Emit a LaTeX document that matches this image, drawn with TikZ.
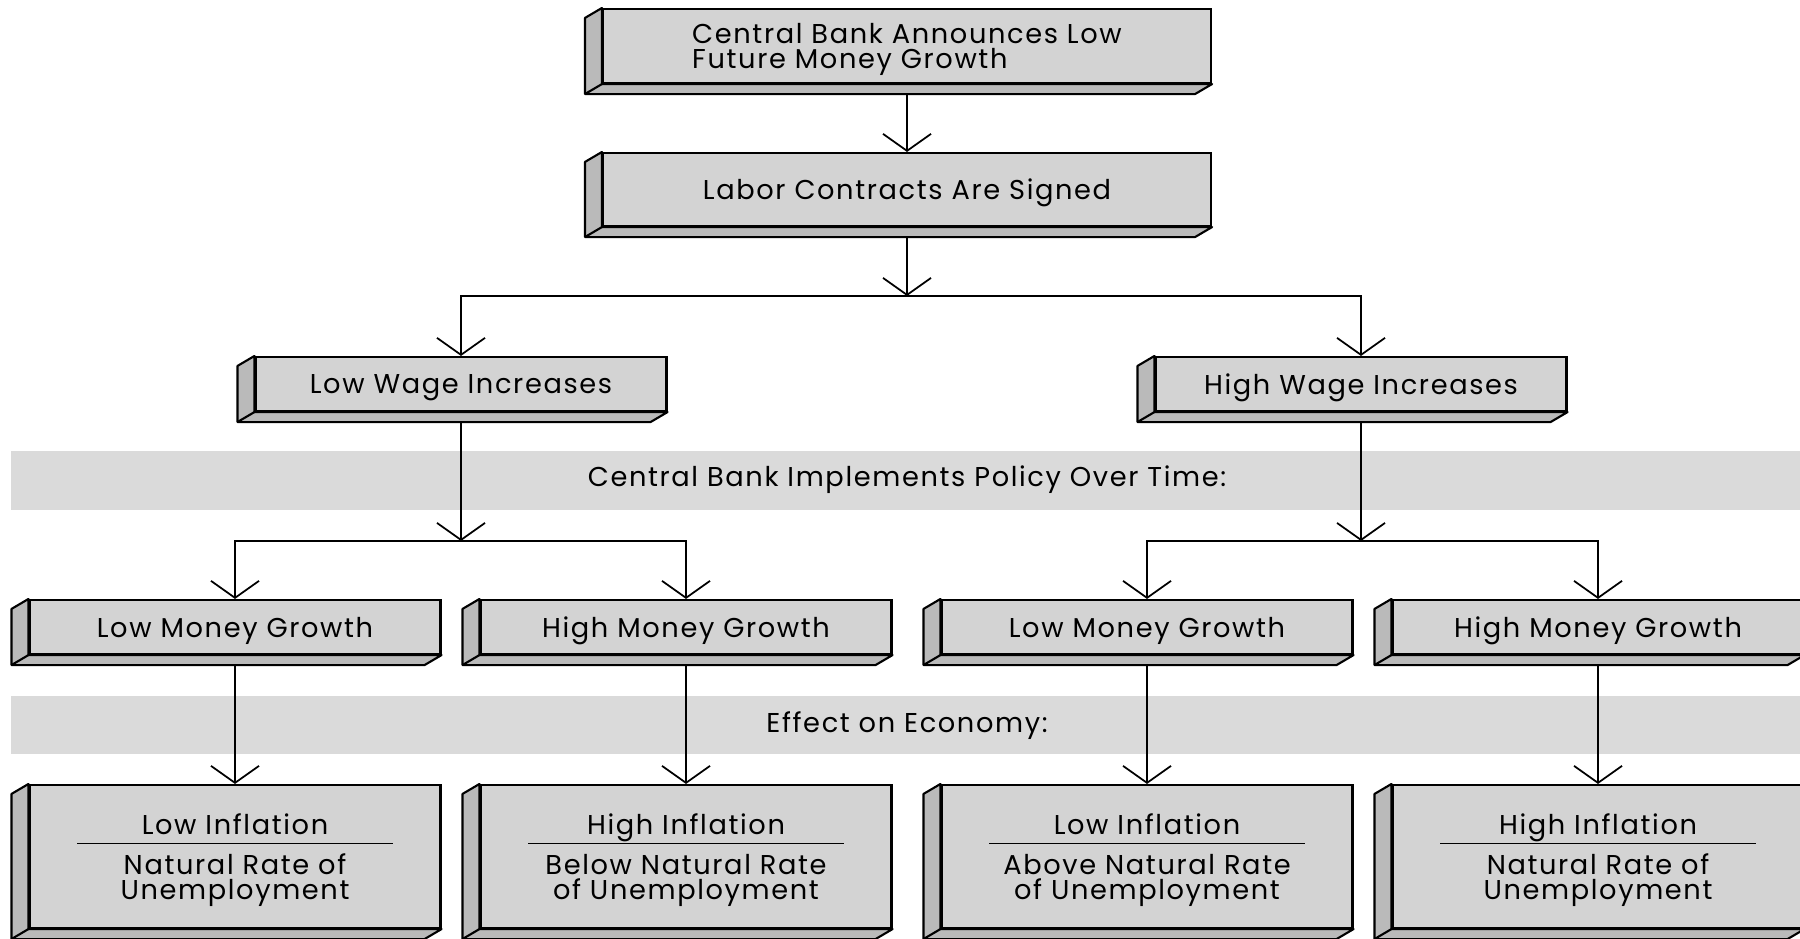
\documentclass[tikz,border=0pt]{standalone}
\usepackage{fontspec}
\setmainfont[LetterSpace=6]{Poppins}
\usetikzlibrary{arrows.meta,calc}
\definecolor{facegray}{RGB}{211,211,211}
\definecolor{sidegray}{RGB}{186,186,186}
\definecolor{bandgray}{RGB}{218,218,218}
\tikzset{
  slab/.style={draw,line width=1.2pt,fill=facegray,inner sep=0pt,text depth=0pt,
    minimum width=8.22cm,minimum height=1.08cm,
    font=\fontsize{15.5}{14.6}\selectfont},
  bandtext/.style={font=\fontsize{15.5}{14.6}\selectfont},
}
% left and bottom faces of a slab
\newcommand{\slabsides}[1]{%
  \draw[line width=1.2pt,fill=sidegray,line join=round]
    (#1.north west)--++(-0.34,-0.2) |- ($(#1.south east)+(-0.34,-0.2)$)
    --(#1.south east)--(#1.south west)--cycle;
  \draw[line width=1.2pt] (#1.south west)--++(-0.34,-0.2);
}
\begin{document}
\begin{tikzpicture}[>={Straight Barb[length=3.4mm,width=9.6mm]},line width=1pt]
    \clip (0,0) rectangle (36,-18.76);
    \fill[white] (0,0) rectangle (36,-18.76);
    % shaded bands
    \fill[bandgray] (0.22,-9.02) rectangle (36,-10.2);
    \fill[bandgray] (0.22,-13.92) rectangle (36,-15.08);
    \node[bandtext] (policy) at (18.14,-9.6) {Central Bank Implements Policy Over Time:};
    \node[bandtext] (effect) at (18.14,-14.52) {Effect on Economy:};
    % slabs
    \node[slab,minimum width=12.16cm,minimum height=1.48cm,align=left] (announce) at (18.14,-0.92)
        {Central Bank Announces Low\\Future Money Growth\hspace*{4mm}};
    \node[slab,minimum width=12.16cm,minimum height=1.46cm] (signed) at (18.14,-3.79)
        {Labor Contracts Are Signed};
    \node[slab] (lowwage) at (9.22,-7.68) {Low Wage Increases};
    \node[slab] (highwage) at (27.22,-7.68) {High Wage Increases};
    \node[slab] (lmg1) at (4.70,-12.54) {Low Money Growth};
    \node[slab] (hmg1) at (13.72,-12.54) {High Money Growth};
    \node[slab] (lmg2) at (22.94,-12.54) {Low Money Growth};
    \node[slab] (hmg2) at (31.96,-12.54) {High Money Growth};
    \node[slab,minimum height=2.86cm,align=center] (out1) at (4.70,-17.13)
        {Low Inflation\\[-8.8pt]\rule{6.32cm}{0.6pt}\\[2.3pt]Natural Rate of\\Unemployment};
    \node[slab,minimum height=2.86cm,align=center] (out2) at (13.72,-17.13)
        {High Inflation\\[-8.8pt]\rule{6.32cm}{0.6pt}\\[2.3pt]Below Natural Rate\\of Unemployment};
    \node[slab,minimum height=2.86cm,align=center] (out3) at (22.94,-17.13)
        {Low Inflation\\[-8.8pt]\rule{6.32cm}{0.6pt}\\[2.3pt]Above Natural Rate\\of Unemployment};
    \node[slab,minimum height=2.86cm,align=center] (out4) at (31.96,-17.13)
        {High Inflation\\[-8.8pt]\rule{6.32cm}{0.6pt}\\[2.3pt]Natural Rate of\\Unemployment};
    \foreach \n in {announce,signed,lowwage,highwage,lmg1,hmg1,lmg2,hmg2,out1,out2,out3,out4}
    {
        \slabsides{\n}
    }
    % connectors
    \coordinate (fork) at (18.14,-5.92);
    \coordinate (forkl) at (9.22,-10.82);
    \coordinate (forkr) at (27.22,-10.82);
    \draw[->] ([yshift=-2mm]announce.south)--(signed.north);
    \draw[->] ([yshift=-2mm]signed.south)--(fork);
    \draw[->] (fork)-|(lowwage.north);
    \draw[->] (fork)-|(highwage.north);
    \draw[->] ([yshift=-2mm]lowwage.south)--(forkl);
    \draw[->] ([yshift=-2mm]highwage.south)--(forkr);
    \draw[->] (forkl)-|(lmg1.north);
    \draw[->] (forkl)-|(hmg1.north);
    \draw[->] (forkr)-|(lmg2.north);
    \draw[->] (forkr)-|(hmg2.north);
    \foreach \a/\b in {lmg1/out1,hmg1/out2,lmg2/out3,hmg2/out4}
    {
        \draw[->] ([yshift=-2mm]\a.south)--(\b.north);
    }
\end{tikzpicture}
\end{document}
